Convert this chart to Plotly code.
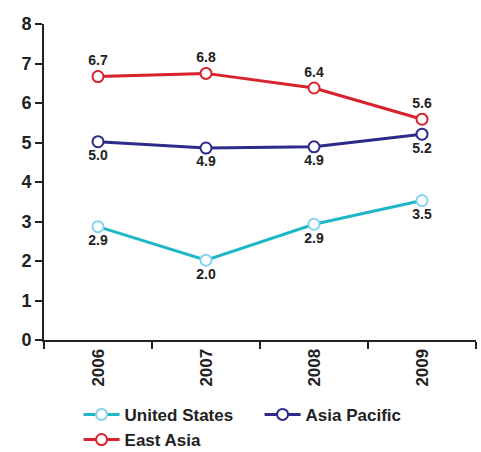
import plotly.graph_objects as go

years = ["2006", "2007", "2008", "2009"]
us_vals = [2.87, 2.02, 2.93, 3.53]
us_labels = ["2.9", "2.0", "2.9", "3.5"]
ap_vals = [5.02, 4.86, 4.89, 5.21]
ap_labels = ["5.0", "4.9", "4.9", "5.2"]
ea_vals = [6.67, 6.75, 6.38, 5.59]
ea_labels = ["6.7", "6.8", "6.4", "5.6"]

FONT = "Liberation Sans, Arial, sans-serif"

fig = go.Figure()

def add(name, vals, labels, line_color, marker_line, pos):
    fig.add_trace(go.Scatter(
        x=years, y=vals, name=name, mode="lines+markers+text",
        text=labels, textposition=pos,
        textfont=dict(family=FONT, size=14, color="#222222", weight="bold"),
        line=dict(color=line_color, width=3),
        marker=dict(symbol="circle", size=11, color="white",
                    line=dict(color=marker_line, width=2)),
        cliponaxis=False,
    ))

add("United States", us_vals, us_labels, "#1fb6c6", "#86d3f0", "bottom center")
add("Asia Pacific", ap_vals, ap_labels, "#2e2a8a", "#2e2a8a", "bottom center")
add("East Asia", ea_vals, ea_labels, "#d8222d", "#d8222d", "top center")

fig.update_layout(
    width=481, height=452,
    margin=dict(l=44, r=5, t=24, b=112, autoexpand=False),
    paper_bgcolor="white", plot_bgcolor="white",
    font=dict(family=FONT, color="#222222"),
    showlegend=True,
    legend=dict(orientation="h", x=0.08, xanchor="left", y=-0.18, yanchor="top",
                font=dict(family=FONT, size=17, color="#222222", weight="bold"),
                itemwidth=36, tracegroupgap=0, entrywidthmode="pixels", entrywidth=130),
    xaxis=dict(type="category", range=[-0.5, 3.5], tickson="boundaries",
               ticks="outside", ticklen=7, tickwidth=1.5, tickcolor="#222222",
               showline=True, linecolor="#222222", linewidth=2,
               showgrid=False, zeroline=False, tickangle=-90,
               tickfont=dict(family=FONT, size=17, color="#222222", weight="bold")),
    yaxis=dict(range=[0, 8], tick0=0, dtick=1,
               ticks="outside", ticklen=7, tickwidth=1.5, tickcolor="#222222",
               showline=True, linecolor="#222222", linewidth=2,
               showgrid=False, zeroline=False,
               tickfont=dict(family=FONT, size=18, color="#222222", weight="bold")),
)

fig.write_html("out.html",
               config=dict(displayModeBar=False),
               post_script="document.body.style.margin='0';document.body.style.overflow='hidden';")
